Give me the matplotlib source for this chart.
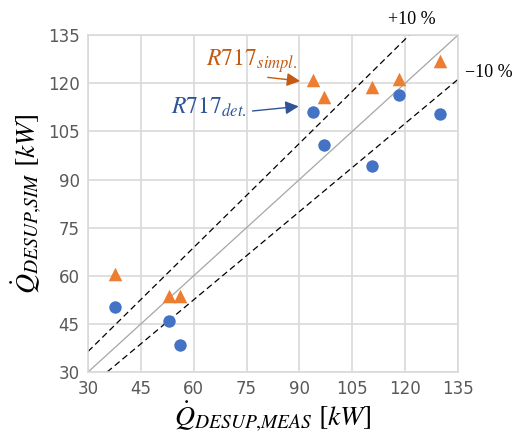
import numpy as np
import matplotlib.pyplot as plt

plt.rcParams['mathtext.fontset'] = 'stix'

# measured vs simulated desuperheater heat [kW]
q_meas = [37.6, 53.1, 56.1, 93.8, 97.1, 110.7, 118.3, 129.8]
q_det = [50.2, 45.8, 38.3, 111.2, 100.8, 94.3, 116.5, 110.5]
q_simpl = [60.4, 53.6, 53.8, 120.9, 115.7, 118.8, 121.3, 126.8]

ticks = [30, 45, 60, 75, 90, 105, 120, 135]
ident = [30, 135]
plus10_x = [30, 121.2]
plus10_y = [36.4, 135]
minus10_x = [35.4, 135]
minus10_y = [30, 121.2]

blue = '#4472C4'
orange = '#ED7D31'

fig = plt.figure(figsize=(5.18, 4.45), dpi=100)
ax = fig.add_axes([0.170, 0.164, 0.714, 0.757])

ax.plot(ident, ident, color='#A6A6A6', lw=0.9, zorder=2)
ax.plot(plus10_x, plus10_y, color='black', lw=0.9, ls=(0, (5, 3)), zorder=2)
ax.plot(minus10_x, minus10_y, color='black', lw=0.9, ls=(0, (5, 3)), zorder=2)

ax.scatter(q_meas, q_det, s=80, marker='o', color=blue, zorder=3, linewidths=0)
ax.scatter(q_meas, q_simpl, s=95, marker='^', color=orange, zorder=3, linewidths=0)

ax.set_xlim(30, 135)
ax.set_ylim(30, 135)
ax.set_xticks(ticks)
ax.set_yticks(ticks)
ax.grid(color='#D9D9D9', lw=1.2)
ax.set_axisbelow(True)
for s in ax.spines.values():
    s.set_color('#D9D9D9')
    s.set_linewidth(1.2)
ax.tick_params(length=0, labelsize=12, colors='#595959', pad=6)

ax.set_xlabel(r'$\dot{Q}_{DESUP{,}MEAS}\ [kW]$', fontsize=20, labelpad=1)
ax.set_ylabel(r'$\dot{Q}_{DESUP{,}SIM}\ [kW]$', fontsize=20, labelpad=3)

ax.annotate(r'$R717_{simpl.}$', xy=(90.2, 120.7), xytext=(63.6, 125.6),
            color='#C55A11', fontsize=17,
            arrowprops=dict(arrowstyle='-|>', color='#C55A11', lw=1,
                            mutation_scale=20, shrinkA=0, shrinkB=0,
                            relpos=(0.4, 0)))
ax.annotate(r'$R717_{det.}$', xy=(89.8, 112.8), xytext=(53.6, 110.6),
            color='#2F5597', fontsize=17,
            arrowprops=dict(arrowstyle='-|>', color='#2F5597', lw=1,
                            mutation_scale=20, shrinkA=2, shrinkB=0,
                            relpos=(1, 0.3)))

fig.text(0.75, 0.957, '+10 %', fontsize=13, family='Liberation Serif', ha='left', va='center')
fig.text(0.898, 0.838, '\u221210 %', fontsize=13, family='Liberation Serif', ha='left', va='center')

fig.savefig('out.png', dpi=100)
